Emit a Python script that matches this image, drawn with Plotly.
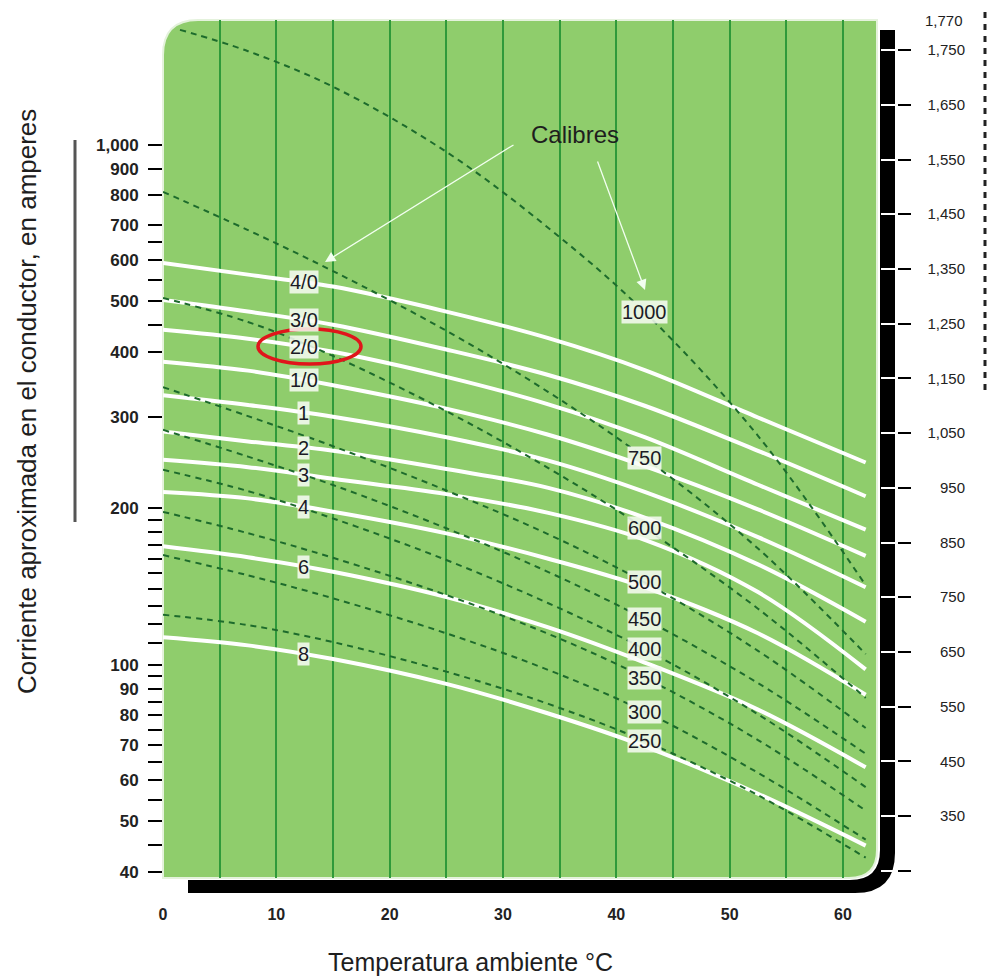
import numpy as np
import plotly.graph_objects as go

# ---- data ----
temps = [0, 7.5, 15, 25, 34, 42.5, 52.5, 62]
temps_1000 = [1.5, 7.5, 15, 25, 34, 42.5, 52.5, 62]

# AWG sizes, amperes (left log axis)
awg_names = ["4/0", "3/0", "2/0", "1/0", "1", "2", "3", "4", "6", "8"]
awg_4_0 = [593, 563, 534, 478, 425, 369, 299, 245]
awg_3_0 = [503, 478, 451, 404, 361, 315, 258, 211]
awg_2_0 = [441, 424, 400, 358, 317, 274, 222, 182]
awg_1_0 = [383, 368, 345, 311, 277, 241, 199, 162]
awg_1 = [330, 316, 300, 274, 247, 215, 176, 141]
awg_2 = [281, 269, 258, 238, 219, 192, 156, 121]
awg_3 = [248, 240, 228, 213, 196, 174, 138, 98]
awg_4 = [215, 209, 197, 179, 160, 141, 115, 87.6]
awg_6 = [169, 161, 151, 135, 118, 101, 82.0, 63.5]
awg_8 = [113, 109, 102.6, 91.9, 80.6, 69.7, 56.5, 44.9]

# kcmil sizes, amperes (right axis)
kcmil_names = ["1000", "750", "600", "500", "450", "400", "350", "300", "250"]
kcmil_1000 = [1787, 1748, 1683, 1564, 1425, 1271, 1045, 772]
kcmil_750 = [1491, 1421, 1346, 1237, 1125, 1005, 839, 646]
kcmil_600 = [1297, 1253, 1191, 1090, 986, 876, 729, 566]
kcmil_500 = [1134, 1081, 1026, 945, 865, 777, 652, 511]
kcmil_450 = [1056, 1007, 955, 876, 796, 710, 593, 464]
kcmil_400 = [983, 944, 894, 818, 739, 655, 536, 403]
kcmil_350 = [906, 867, 822, 754, 683, 603, 489, 360]
kcmil_300 = [827, 790, 748, 684, 617, 541, 429, 307]
kcmil_250 = [718, 699, 668, 614, 555, 487, 388, 274]

left_tickvals = [40, 45, 50, 55, 60, 65, 70, 75, 80, 85, 90, 95, 100,
                 110, 120, 130, 140, 150, 160, 170, 180, 190, 200, 300,
                 400, 450, 500, 550, 600, 650, 700, 800, 900, 1000]
left_labeled = [40, 50, 60, 70, 80, 90, 100, 200, 300, 400, 500, 600, 700, 800, 900, 1000]
right_tickvals = [250, 350, 450, 550, 650, 750, 850, 950, 1050, 1150, 1250,
                  1350, 1450, 1550, 1650, 1750]
right_labeled = right_tickvals[1:]
x_ticks = [0, 10, 20, 30, 40, 50, 60]
x_grid = [5, 10, 15, 20, 25, 30, 35, 40, 45, 50, 55, 60]

awg_series = [awg_4_0, awg_3_0, awg_2_0, awg_1_0, awg_1, awg_2, awg_3, awg_4, awg_6, awg_8]
kcmil_series = [kcmil_1000, kcmil_750, kcmil_600, kcmil_500, kcmil_450,
                kcmil_400, kcmil_350, kcmil_300, kcmil_250]

# ---- geometry helpers (pixel -> paper) ----
L, R, T, B = 163, 10, 20, 98
W, H = 987, 976
PW, PH = W - L - R, H - T - B


def px(x):
    return (x - L) / PW


def py(y):
    return (H - B - y) / PH


GREEN = "#8fcd6c"
GRID = "#2f9a3a"
DASH = "#1d6b2c"
FONT = "Liberation Sans, Arial, sans-serif"

fig = go.Figure()

for i, vals in enumerate(kcmil_series):
    xs = temps_1000 if i == 0 else temps
    fig.add_trace(go.Scatter(x=xs, y=vals, yaxis="y2", mode="lines",
                             line=dict(color=DASH, width=2, dash="6px,5px", shape="spline"),
                             hoverinfo="skip"))

for vals in awg_series:
    fig.add_trace(go.Scatter(x=temps, y=vals, mode="lines",
                             line=dict(color="white", width=4, shape="spline"),
                             hoverinfo="skip"))

# helper traces so the extra right axes are drawn
for ax in ["y3", "y4"]:
    fig.add_trace(go.Scatter(x=temps, y=kcmil_1000, yaxis=ax, mode="lines",
                             line=dict(width=0), hoverinfo="skip"))

annotations = []
label_bg = "rgba(248,252,244,0.85)"
for name, vals in zip(awg_names, awg_series):
    yl = np.interp(12.4, temps, np.log10(vals))
    annotations.append(dict(x=12.4, y=yl, xref="x", yref="y", text=name, showarrow=False,
                            font=dict(family=FONT, size=20, color="#1b1b25"),
                            bgcolor=label_bg, borderpad=0))
for name, vals in zip(kcmil_names, kcmil_series):
    annotations.append(dict(x=temps[5], y=vals[5], xref="x", yref="y2", text=name,
                            showarrow=False, font=dict(family=FONT, size=20, color="#1b1b25"),
                            bgcolor=label_bg, borderpad=0))


def note(x, y, text, size, **kw):
    d = dict(x=px(x), y=py(y), xref="paper", yref="paper", text=text, showarrow=False,
             xanchor="center", yanchor="middle", font=dict(family=FONT, size=size, color="#1e1e1e"))
    d.update(kw)
    return d


annotations += [
    note(575, 135, "Calibres", 24),
    dict(x=px(325), y=py(262), xref="paper", yref="paper", text="", showarrow=True,
         ax=190, ay=-118, arrowcolor="#f2fff0", arrowwidth=1.3, arrowhead=2, arrowsize=1.6),
    dict(x=px(645), y=py(290), xref="paper", yref="paper", text="", showarrow=True,
         ax=-48, ay=-130, arrowcolor="#f2fff0", arrowwidth=1.3, arrowhead=2, arrowsize=1.6),
    note(965, 20, "1,770", 15, xanchor="right"),
    note(470, 962, "Temperatura ambiente °C", 25),
    note(27, 402, "Corriente aproximada en el conductor, en amperes", 26, textangle=-90),
]

shapes = [
    # green panel with rounded top-left and bottom-right corners
    dict(type="path", xref="paper", yref="paper", layer="below",
         path=(f"M {px(163)},{py(878)} L {px(163)},{py(55)} Q {px(163)},{py(20)} {px(198)},{py(20)} "
               f"L {px(877)},{py(20)} L {px(877)},{py(850)} Q {px(877)},{py(878)} {px(849)},{py(878)} Z"),
         fillcolor=GREEN, line=dict(color="#e4f2dc", width=2)),
    # black L frame
    dict(type="path", xref="paper", yref="paper", layer="below",
         path=(f"M {px(880)},{py(30)} L {px(895)},{py(30)} L {px(895)},{py(853)} "
               f"Q {px(895)},{py(893)} {px(855)},{py(893)} L {px(188)},{py(893)} "
               f"L {px(188)},{py(880)} L {px(850)},{py(880)} Q {px(880)},{py(880)} {px(880)},{py(850)} Z"),
         fillcolor="black", line=dict(width=0)),
    # gray bar beside the left title
    dict(type="line", xref="paper", yref="paper", x0=px(75), x1=px(75), y0=py(140), y1=py(522),
         line=dict(color="#555", width=3)),
    # dotted line at far right
    dict(type="line", xref="paper", yref="paper", x0=px(985), x1=px(985), y0=py(12), y1=py(395),
         line=dict(color="#222", width=3, dash="6px,6px")),
    # red highlight around 2/0
    dict(type="circle", xref="paper", yref="paper", x0=px(258), x1=px(361), y0=py(364), y1=py(329),
         line=dict(color="#e0151b", width=3.5)),
]

right_range = [236.8, 1805]
fig.update_layout(
    width=W, height=H, margin=dict(l=L, r=R, t=T, b=B),
    plot_bgcolor="white", paper_bgcolor="white", showlegend=False,
    font=dict(family=FONT),
    xaxis=dict(domain=[0, px(877)], range=[0, 63], showgrid=False, zeroline=False, showline=False,
               tickmode="array", tickvals=x_ticks, ticks="outside", ticklen=22,
               tickcolor="rgba(0,0,0,0)",
               tickfont=dict(family=FONT, size=16, color="#222", weight="bold"),
               minor=dict(tickmode="array", tickvals=x_grid, showgrid=True,
                          gridcolor=GRID, gridwidth=2, ticks="")),
    yaxis=dict(type="log", range=[np.log10(38.9), np.log10(1739)], showgrid=False,
               zeroline=False, showline=False, tickmode="array", tickvals=left_tickvals,
               ticktext=[f"{v:,}" if v in left_labeled else "" for v in left_tickvals],
               ticks="outside", ticklen=14, tickwidth=2, tickcolor="black",
               ticklabelstandoff=6,
               tickfont=dict(family=FONT, size=17, color="#222", weight="bold")),
    yaxis2=dict(overlaying="y", anchor="free", position=px(880), side="right", range=right_range,
                showgrid=False, zeroline=False, showline=False, tickmode="array",
                tickvals=right_tickvals, showticklabels=False, ticks="outside", ticklen=15,
                tickwidth=2, tickcolor="white"),
    yaxis3=dict(overlaying="y", anchor="free", position=px(897), side="right", range=right_range,
                showgrid=False, zeroline=False, showline=False, tickmode="array",
                tickvals=right_tickvals, showticklabels=False, ticks="outside", ticklen=13,
                tickwidth=2, tickcolor="black"),
    yaxis4=dict(overlaying="y", anchor="free", position=px(965), side="left", range=right_range,
                showgrid=False, zeroline=False, showline=False, tickmode="array",
                tickvals=right_labeled, ticktext=[f"{v:,}" for v in right_labeled], ticks="",
                tickfont=dict(family=FONT, size=15, color="#222")),
    annotations=annotations,
    shapes=shapes,
)

# the page's default body margin would shift the figure by 8px
fig.write_html("out.html", config={"displayModeBar": False},
               post_script="document.body.style.margin='0';")
